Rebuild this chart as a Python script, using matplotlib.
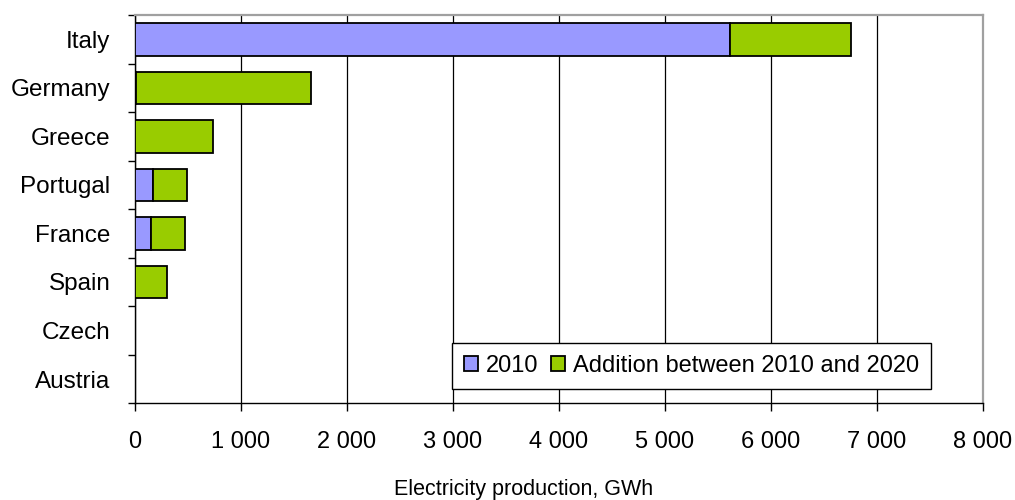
import matplotlib
matplotlib.use("Agg")
import matplotlib.pyplot as plt
from matplotlib.ticker import FuncFormatter, MultipleLocator

plt.rcParams['font.family'] = ['Liberation Sans', 'DejaVu Sans']

countries = ["Italy", "Germany", "Greece", "Portugal", "France", "Spain", "Czech", "Austria"]
prod_2010 = [5620, 15, 0, 170, 151, 0, 0, 0]
addition_2010_2020 = [1135, 1645, 736, 320, 321, 302, 0, 0]

blue = "#9999FF"
green = "#99CC00"

fig = plt.figure(figsize=(10.15, 5.0), dpi=100)
ax = fig.add_axes([0.1327, 0.1934, 0.8355, 0.7766])

ypos = list(range(len(countries)))
ax.barh(ypos, prod_2010, height=0.67, color=blue, edgecolor="black",
        linewidth=1.3, label="2010", zorder=3)
ax.barh(ypos, addition_2010_2020, left=prod_2010, height=0.67, color=green,
        edgecolor="black", linewidth=1.3, label="Addition between 2010 and 2020", zorder=3)

ax.set_xlim(0, 8000)
ax.set_ylim(len(countries) - 0.5, -0.5)
ax.xaxis.set_major_locator(MultipleLocator(1000))
ax.xaxis.set_major_formatter(FuncFormatter(lambda v, p: f"{int(v):,}".replace(",", " ")))

# category labels centred in bands, ticks on band boundaries
ax.set_yticks(ypos)
ax.set_yticklabels(countries)
ax.set_yticks([y - 0.5 for y in ypos] + [len(countries) - 0.5], minor=True)
ax.tick_params(axis="y", which="major", length=0, pad=17.5, labelsize=17.5)
ax.tick_params(axis="y", which="minor", length=5, width=1, color="black")
ax.tick_params(axis="x", which="major", length=6, width=1, color="black",
               pad=14, labelsize=17)

ax.grid(axis="x", color="black", linewidth=0.9, zorder=0)
ax.set_axisbelow(True)

for side in ("left", "bottom"):
    ax.spines[side].set_color("black")
    ax.spines[side].set_linewidth(1.0)
for side in ("top", "right"):
    ax.spines[side].set_color("#A0A0A0")
    ax.spines[side].set_linewidth(1.6)

fig.text(523.5 / 1015, 0.022, "Electricity production, GWh", ha="center",
         va="center", fontsize=15.5)

leg = ax.legend(loc="lower right", bbox_to_anchor=(0.939, 0.0368), ncol=2,
                fontsize=17, frameon=True, fancybox=False, shadow=False,
                handlelength=0.6, handleheight=0.6, handletextpad=0.35,
                columnspacing=0.5, borderpad=0.5, borderaxespad=0)
leg.get_frame().set_edgecolor("black")
leg.get_frame().set_linewidth(1.0)
leg.get_frame().set_alpha(1)

fig.savefig("out.png", dpi=100)
